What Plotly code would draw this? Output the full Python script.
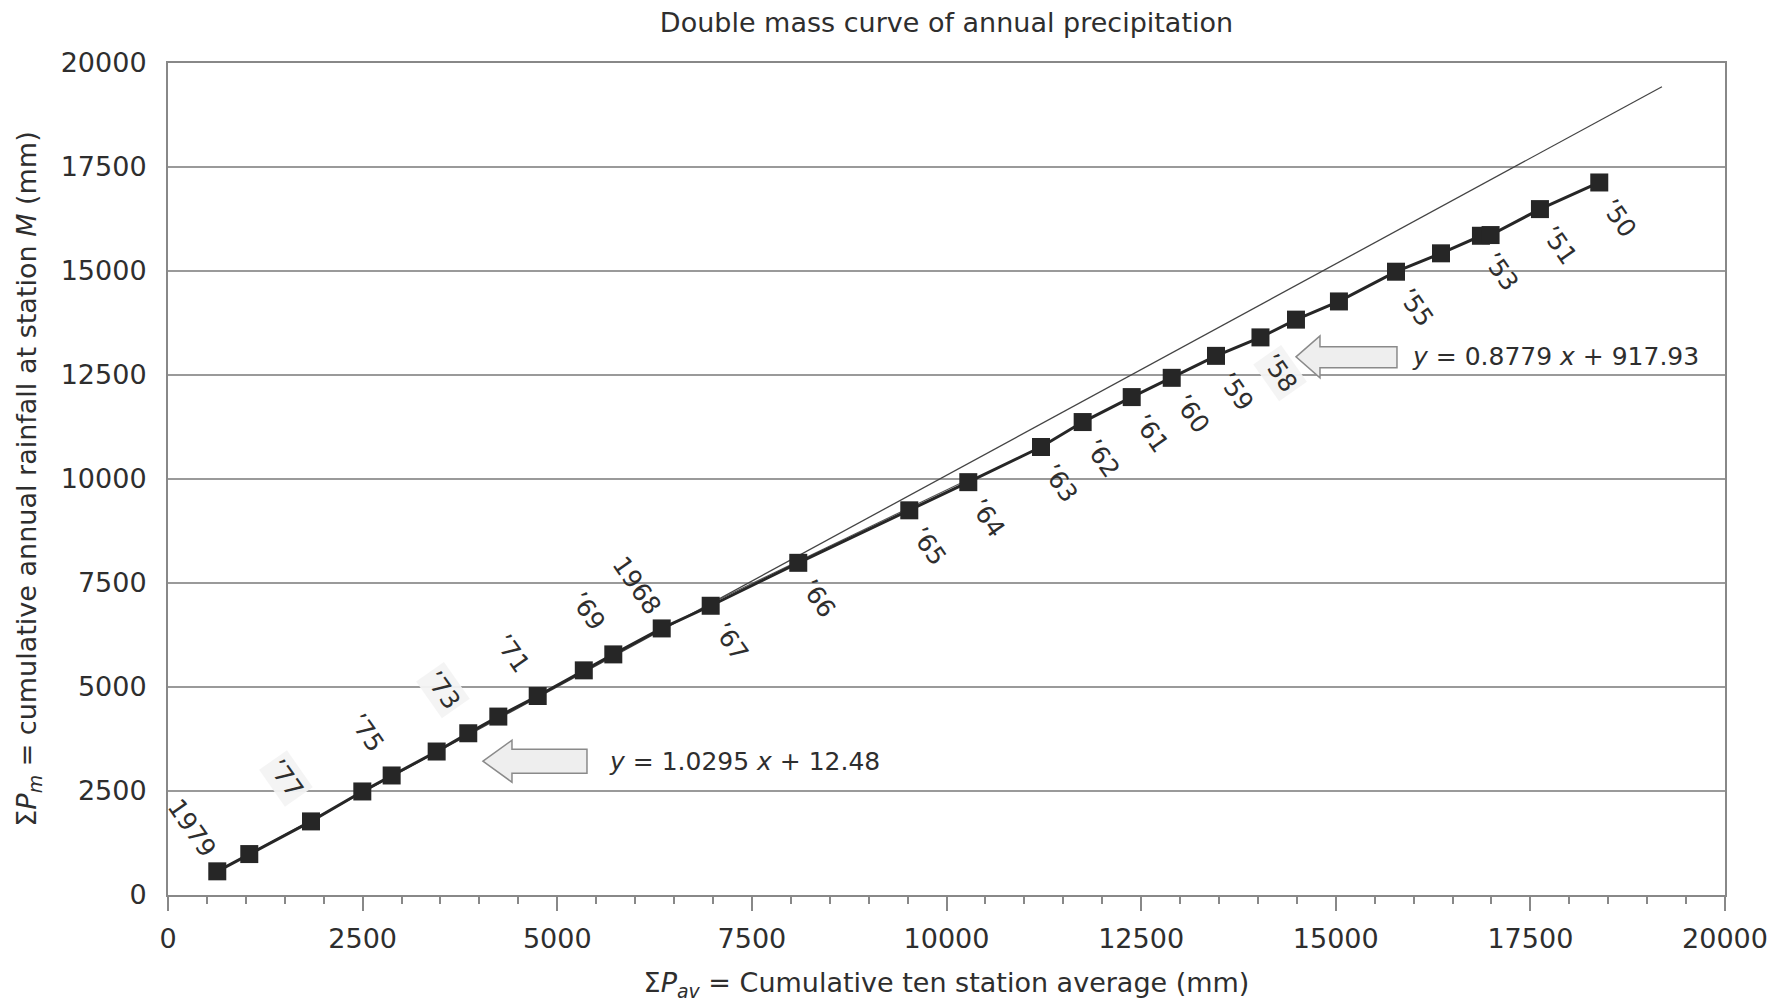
import plotly.graph_objects as go

# ---------------- data ----------------
chart_title = "Double mass curve of annual precipitation"
years = list(range(1979, 1949, -1))
cum_avg = [633, 1044, 1837, 2496, 2873, 3451, 3857, 4243, 4749, 5341,
           5720, 6342, 6971, 8096, 9522, 10280, 11214, 11749, 12379, 12893,
           13462, 14033, 14489, 15041, 15774, 16352, 16865, 16989, 17623, 18385]
cum_m = [569, 984, 1769, 2489, 2873, 3449, 3888, 4289, 4783, 5400,
         5784, 6408, 6953, 7985, 9247, 9924, 10769, 11369, 11969, 12432,
         12960, 13404, 13831, 14268, 14983, 15425, 15847, 15864, 16488, 17128]
point_labels = ["1979", "", "’77", "", "’75", "", "’73", "", "’71", "",
                "’69", "1968", "’67", "’66", "’65", "’64", "’63", "’62", "’61", "’60",
                "’59", "’58", "", "", "’55", "", "’53", "", "’51", "’50"]
halo_labels = ["’77", "’73", "’58"]

fit1_x = [633, 19190]
fit1_y = [569, 19430]
fit2_x = [6971, 10280]
fit2_y = [7010, 9990]

eq1_text = "<i>y</i> = 1.0295 <i>x</i> + 12.48"
eq1_anchor = (4046, 3216)
eq2_text = "<i>y</i> = 0.8779 <i>x</i> + 917.93"
eq2_anchor = (14489, 12936)

x_ticks = list(range(0, 20001, 2500))
y_ticks = list(range(0, 20001, 2500))

# ---------------- style ----------------
FONT = "DejaVu Sans"
TXT = "#2e2e2e"
GRID = "#9a9a9a"
FS = 26

fig = go.Figure()

fig.add_trace(go.Scatter(x=fit1_x, y=fit1_y, mode="lines",
                         line=dict(color="#444444", width=1.3), hoverinfo="skip",
                         showlegend=False))
fig.add_trace(go.Scatter(x=fit2_x, y=fit2_y, mode="lines",
                         line=dict(color="#555555", width=1.1), hoverinfo="skip",
                         showlegend=False))
fig.add_trace(go.Scatter(x=cum_avg, y=cum_m, mode="lines+markers",
                         line=dict(color="#262626", width=3),
                         marker=dict(symbol="square", size=18, color="#262626"),
                         text=[str(y) for y in years], showlegend=False))

annotations = []
for xv, yv, lab, yr in zip(cum_avg, cum_m, point_labels, years):
    if not lab:
        continue
    upper = yr >= 1968
    ann = dict(
        x=xv, y=yv, xref="x", yref="y", text=lab, showarrow=False,
        textangle=55, font=dict(family=FONT, size=25, color=TXT),
        xshift=-25 if upper else 20, yshift=43 if upper else -36, borderpad=2)
    if lab in halo_labels:
        ann["bgcolor"] = "rgba(243,243,243,0.95)"
    annotations.append(ann)

for txt, (ax_, ay_), sh in [(eq1_text, eq1_anchor, 124), (eq2_text, eq2_anchor, 114)]:
    annotations.append(dict(x=ax_, y=ay_, xref="x", yref="y", text=txt,
                            showarrow=False, xanchor="left", yanchor="middle",
                            xshift=sh, font=dict(family=FONT, size=25, color=TXT)))

shapes = []
arrow_paths = [
    (eq1_anchor, "M0,0 L29,21 L29,12 L104,12 L104,-12 L29,-12 L29,-21 Z"),
    (eq2_anchor, "M0,0 L24,21 L24,10 L101,10 L101,-11 L24,-11 L24,-21 Z"),
]
for (ax_, ay_), p in arrow_paths:
    shapes.append(dict(type="path", xref="x", yref="y", xsizemode="pixel",
                       ysizemode="pixel", xanchor=ax_, yanchor=ay_, path=p,
                       fillcolor="#eeeeee", line=dict(color="#8a8a8a", width=1.5),
                       layer="above"))

fig.update_layout(
    width=1787, height=1005,
    margin=dict(l=168, r=62, t=63, b=108),
    paper_bgcolor="white", plot_bgcolor="white",
    font=dict(family=FONT, size=FS, color=TXT),
    title=dict(text=chart_title, x=(168 + 1725) / 2 / 1787, xanchor="center",
               y=1 - 23 / 1005, yanchor="middle",
               font=dict(family=FONT, size=27, color=TXT)),
    annotations=annotations, shapes=shapes,
    xaxis=dict(range=[0, 20000], tickvals=x_ticks, tickformat="d",
               ticks="outside", ticklen=14, tickwidth=2, tickcolor="#888888",
               minor=dict(dtick=500, ticks="outside", ticklen=7, tickwidth=1.5,
                          tickcolor="#888888", showgrid=False),
               showline=True, linecolor="#888888", linewidth=2, mirror=True,
               showgrid=False, zeroline=False,
               tickfont=dict(family=FONT, size=27, color=TXT),
               ticklabelstandoff=5,
               title=dict(text="Σ<i>P</i><sub><i>av</i></sub> = Cumulative ten station average (mm)",
                          font=dict(family=FONT, size=27, color=TXT), standoff=20)),
    yaxis=dict(range=[0, 20000], tickvals=y_ticks, tickformat="d",
               ticks="", showline=True, linecolor="#888888", linewidth=2, mirror=True,
               showgrid=True, gridcolor=GRID, gridwidth=2, zeroline=False,
               tickfont=dict(family=FONT, size=27, color=TXT),
               ticklabelstandoff=14,
               title=dict(text="Σ<i>P</i><sub><i>m</i></sub> = cumulative annual rainfall at station <i>M</i> (mm)",
                          font=dict(family=FONT, size=27, color=TXT), standoff=16)),
)

fig.write_html("out.html")
